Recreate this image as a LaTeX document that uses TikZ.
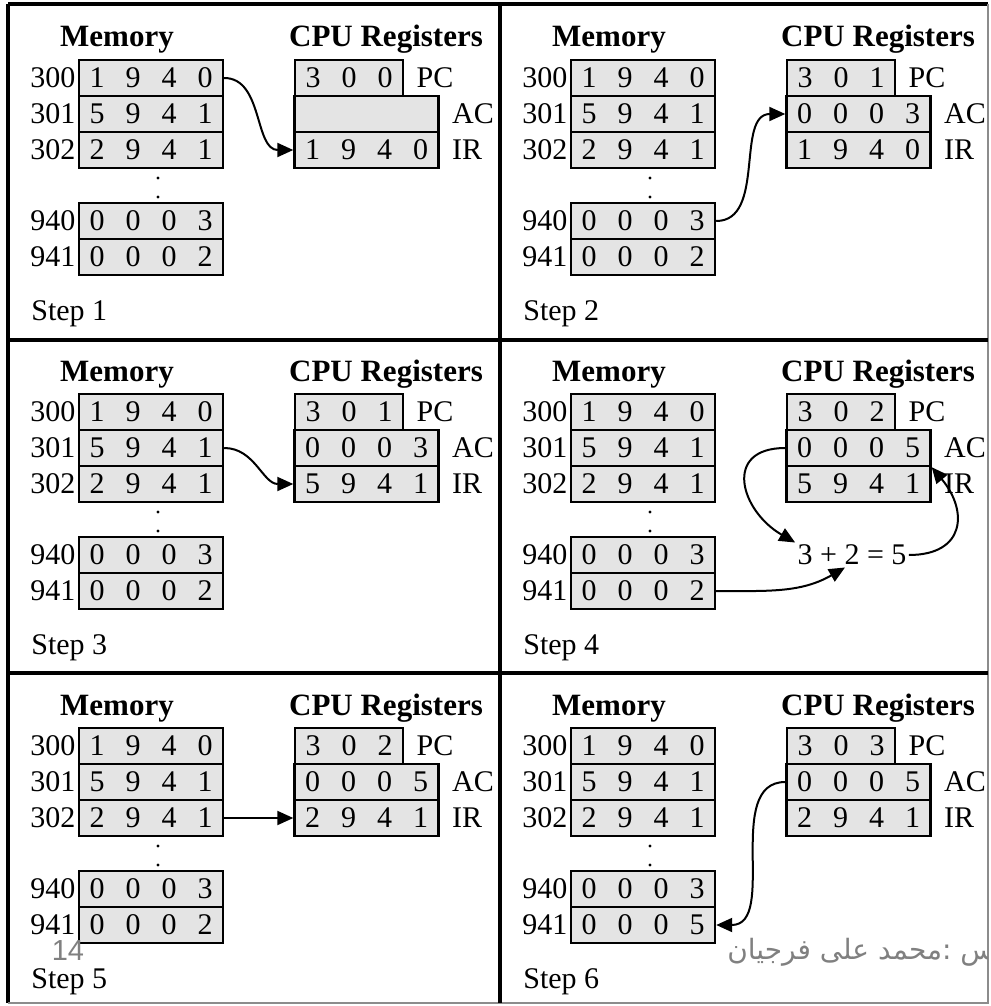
\documentclass[tikz,border=0pt]{standalone}
\usepackage{fontspec}
\setmainfont{Liberation Serif}
\newfontfamily\pagefont{Liberation Sans}
\newfontfamily\arabicfont[Script=Arabic]{DejaVu Sans}
\TeXXeTstate=1
\usetikzlibrary{arrows.meta,positioning}
\definecolor{cellfill}{HTML}{E4E4E4}
\definecolor{framegray}{HTML}{8C8C8C}
\definecolor{notegray}{HTML}{808080}
\tikzset{
  cell/.style={rectangle, draw=black, line width=1.2pt, fill=cellfill, inner sep=0pt,
               minimum height=18pt, font=\fontsize{15}{16}\selectfont},
  reg/.style={cell, minimum width=72pt},
  head/.style={font=\fontsize{15.5}{17}\selectfont\bfseries, inner sep=0pt, anchor=base},
  addr/.style={font=\fontsize{15}{16}\selectfont, inner sep=1pt},
  rlab/.style={font=\fontsize{15}{16}\selectfont, inner sep=1pt},
  steplbl/.style={font=\fontsize{15}{16}\selectfont, inner sep=0pt, anchor=west},
  sumlbl/.style={font=\fontsize{15}{16}\selectfont, inner sep=1pt},
  arrow/.style={-{Triangle[length=8pt, width=7pt]}, line width=1pt},
  frame/.style={line width=1.8pt, black},
  edge/.style={line width=0.8pt, framegray},
}
% one word = four digit cells, PC = three
\newcommand\dg[4]{\makebox[18pt]{#1}\makebox[18pt]{#2}\makebox[18pt]{#3}\makebox[18pt]{#4}}
\newcommand\dgg[3]{\makebox[18pt]{#1}\makebox[18pt]{#2}\makebox[18pt]{#3}}
% #1 step, #2/#3 offset, #4 PC, #5 AC, #6 IR, #7 word at 941
\newcommand\panel[7]{%
  \begin{scope}[shift={(#2,#3)}]
    \node[head] (mem-#1) at (117,47) {Memory};
    \node[head] (cpu-#1) at (386,47) {CPU Registers};
    \node[cell] (m300-#1) at (151,78) {\dg1940};
    \node[cell] (m301-#1) at (151,114) {\dg5941};
    \node[cell] (m302-#1) at (151,150) {\dg2941};
    \node[cell] (m940-#1) at (151,221) {\dg0003};
    \node[cell] (m941-#1) at (151,257) {#7};
    \node[addr, left=0pt of m300-#1] (a300-#1) {300};
    \node[addr, left=0pt of m301-#1] (a301-#1) {301};
    \node[addr, left=0pt of m302-#1] (a302-#1) {302};
    \node[addr, left=0pt of m940-#1] (a940-#1) {940};
    \node[addr, left=0pt of m941-#1] (a941-#1) {941};
    \fill (158,178) circle (0.8pt) (158,197) circle (0.8pt);
    \node[cell] (pc-#1) at (349,78) {#4};
    \node[reg] (ac-#1) at (366.5,114) {#5};
    \node[reg] (ir-#1) at (366.5,150) {#6};
    \node[rlab, right=5pt of pc-#1] (pcl-#1) {PC};
    \node[rlab, right=5pt of ac-#1] (acl-#1) {AC};
    \node[rlab, right=5pt of ir-#1] (irl-#1) {IR};
    \node[steplbl] (step-#1) at (31,314) {Step #1};
  \end{scope}}

\begin{document}
\begin{tikzpicture}[x=0.5pt, y=-0.5pt]
\useasboundingbox (0,0) rectangle (990,1006);

\panel{1}{0}{0}{\dgg300}{}{\dg1940}{\dg0002}
\panel{2}{492}{0}{\dgg301}{\dg0003}{\dg1940}{\dg0002}
\panel{3}{0}{334}{\dgg301}{\dg0003}{\dg5941}{\dg0002}
\panel{4}{492}{334}{\dgg302}{\dg0005}{\dg5941}{\dg0002}
\panel{5}{0}{668}{\dgg302}{\dg0005}{\dg2941}{\dg0002}
\panel{6}{492}{668}{\dgg303}{\dg0005}{\dg2941}{\dg0005}

\node[sumlbl] (sum-4) at (852,555) {3 + 2 = 5};
\coordinate (two-4) at ([xshift=-3.5pt]sum-4.south);

% fetch, execute
\draw[arrow] (m300-1.east) to[out=0, in=180] (ir-1.west);
\draw[arrow] (m940-2.east) to[out=0, in=180] (ac-2.west);
\draw[arrow] (m301-3.east) to[out=0, in=180] (ir-3.west);
\draw[arrow] (ac-4.west) to[out=180, in=150, looseness=1.7] (sum-4.north west);
\draw[arrow] (m941-4.east) to[out=0, in=-150] (two-4);
\draw[arrow] (sum-4.east) to[out=0, in=-50, looseness=1.6] (ac-4.south east);
\draw[arrow] (m302-5.east) -- (ir-5.west);
\draw[arrow] (ac-6.west) to[out=180, in=0] (m941-6.east);

% frame and dividers
\draw[frame] (8,4) -- (988,4);
\draw[frame] (8,4) -- (8,1003);
\draw[edge] (988,4) -- (988,1003) -- (8,1003);
\draw[frame] (500,4) -- (500,1003);
\draw[frame] (8,340) -- (988,340);
\draw[frame] (8,673) -- (988,673);

\node[font=\pagefont\fontsize{14.5}{16}\selectfont, text=notegray, inner sep=0pt] (pageno) at (68,951) {14};
\begin{scope}
  \clip (500,673) rectangle (987,1003);
  \node[font=\arabicfont\fontsize{14}{16}\selectfont, text=notegray, anchor=east, inner sep=0pt]
    (teacher) at (995,952) {\beginR س :محمد على فرجيان\endR};
\end{scope}
\end{tikzpicture}
\end{document}
